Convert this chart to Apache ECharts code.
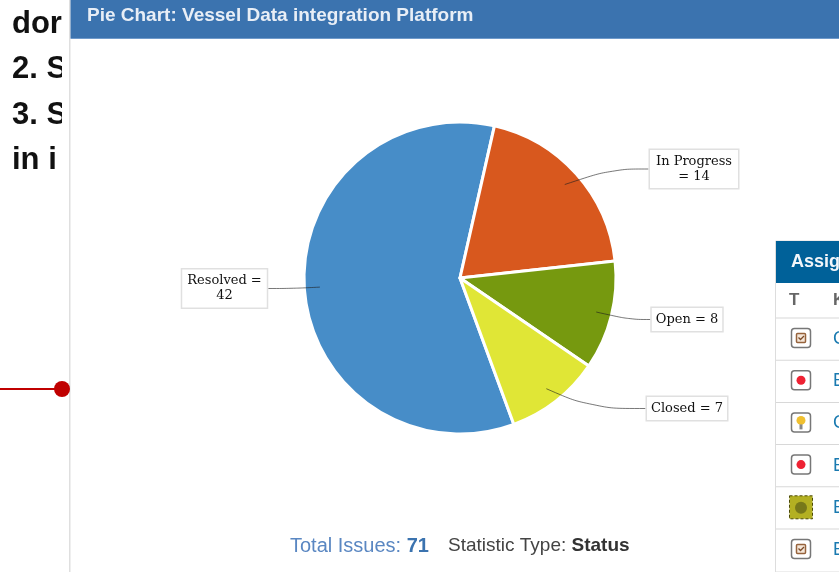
<!DOCTYPE html>
<html>
<head>
<meta charset="utf-8">
<title>Pie Chart: Vessel Data integration Platform</title>
<script src="https://cdn.jsdelivr.net/npm/echarts@6/dist/echarts.min.js"></script>
<style>
  html, body { margin: 0; padding: 0; background: #fff; }
  #chart { width: 839px; height: 572px; }
</style>
</head>
<body>
<div id="chart"></div>
<script>
const statuses = ['Resolved', 'In Progress', 'Open', 'Closed'];
const issueCounts = [42, 14, 8, 7];
const labelJoins = [' =\n', '\n= ', ' = ', ' = '];
const chartTitle = 'Pie Chart: Vessel Data integration Platform';
const totalIssues = 71;
const statisticType = 'Status';
const sideLines = ['dor', '2. S', '3. S', 'in i'];
const tableKeys = ['C', 'B', 'C', 'B', 'B', 'B'];
const tableIcons = ['task', 'bug', 'idea', 'bug', 'thumb', 'task'];

const colors = ['#478dc8', '#d8581e', '#76990f', '#e0e636'];
const sans = '"Liberation Sans", Arial, sans-serif';
const cx = 460, cy = 278, radius = 156;

// label centres, the bend of each leader line and side padding of the box
const labelSpots = [
  { x: 224.5, y: 288.5, bendX: 292, side: 1, pad: 5 },
  { x: 694, y: 169, bendX: 612, side: -1, pad: 6 },
  { x: 687, y: 319.5, bendX: 630, side: -1, pad: 4 },
  { x: 687, y: 408.5, bendX: 592, side: -1, pad: 4 }
];

const chart = echarts.init(document.getElementById('chart'), null, { renderer: 'canvas' });

const rect = (x, y, width, height, fill, extra) =>
  Object.assign({ type: 'rect', silent: true, shape: { x, y, width, height }, style: { fill } }, extra);
const text = (x, y, str, fill, font, extra) =>
  Object.assign({ type: 'text', silent: true, x, y, style: { text: str, fill, font, textVerticalAlign: 'middle' } }, extra);

const chrome = [];

// text column cut off behind the dialog
sideLines.forEach((line, i) => {
  chrome.push(text(12, 24 + i * 45.5, line, '#111', 'bold 31px ' + sans));
});
chrome.push(rect(62, 0, 8, 200, '#fff'));
chrome.push(rect(69, 0, 1.5, 572, '#dfdfdf'));
chrome.push(rect(0, 388, 62, 2, '#c00000'));
chrome.push({ type: 'circle', silent: true, shape: { cx: 62, cy: 389, r: 8 }, style: { fill: '#c00000' } });

// dialog header
chrome.push(rect(70.5, 0, 769, 38, '#3b73af'));
chrome.push(rect(70.5, 38, 769, 1, '#6f9acb'));
chrome.push(text(87, 16, chartTitle, '#e8eef6', 'bold 19px ' + sans));

// footer
chrome.push({
  type: 'text', silent: true, x: 290, y: 546,
  style: {
    text: '{a|Total Issues: }{b|' + totalIssues + '}',
    textVerticalAlign: 'middle',
    rich: {
      a: { fill: '#5a87c2', font: '20px ' + sans },
      b: { fill: '#3b73af', font: 'bold 20px ' + sans }
    }
  }
});
chrome.push({
  type: 'text', silent: true, x: 448, y: 546,
  style: {
    text: '{c|Statistic Type: }{d|' + statisticType + '}',
    textVerticalAlign: 'middle',
    rich: {
      c: { fill: '#444', font: '19px ' + sans },
      d: { fill: '#333', font: 'bold 19px ' + sans }
    }
  }
});

// assignee table, cut by the window edge
chrome.push(rect(775.5, 241, 64, 331, '#fff', { style: { fill: '#fff', stroke: '#ddd', lineWidth: 1 } }));
chrome.push(rect(776, 241, 63, 42, '#006199'));
chrome.push(text(791, 262, 'Assignee', '#f2f6fa', 'bold 18px ' + sans));
chrome.push(text(789, 300, 'T', '#666', 'bold 17px ' + sans));
chrome.push(text(833, 300, 'Key', '#666', 'bold 17px ' + sans));
tableKeys.forEach((key, i) => {
  const y = 339 + i * 42.2;
  chrome.push(rect(776, y - 21.5, 63, 1, '#d8d8d8'));
  chrome.push(text(833, y, key, '#1a7ab0', '18px ' + sans));
  const iy = y - 1;
  const icon = tableIcons[i];
  if (icon === 'thumb') {
    chrome.push({
      type: 'rect', silent: true,
      shape: { x: 789.5, y: iy - 11, width: 23, height: 23 },
      style: { fill: '#b3b022', stroke: '#4c4a08', lineWidth: 1, lineDash: [3, 2] }
    });
    chrome.push({ type: 'circle', silent: true, shape: { cx: 801, cy: iy + 1, r: 6 }, style: { fill: '#77781a' } });
    return;
  }
  chrome.push({
    type: 'rect', silent: true,
    shape: { x: 791.5, y: iy - 9.5, width: 19, height: 19, r: 3 },
    style: { fill: '#fff', stroke: '#777', lineWidth: 1.5 }
  });
  if (icon === 'bug') {
    chrome.push({ type: 'circle', silent: true, shape: { cx: 801, cy: iy, r: 4.5 }, style: { fill: '#ee2233' } });
  } else if (icon === 'idea') {
    chrome.push({ type: 'circle', silent: true, shape: { cx: 801, cy: iy - 2, r: 4.5 }, style: { fill: '#f0c030' } });
    chrome.push(rect(799.5, iy + 2, 3, 5, '#888'));
  } else {
    chrome.push({
      type: 'rect', silent: true,
      shape: { x: 796.5, y: iy - 4.5, width: 9, height: 9, r: 1 },
      style: { fill: '#f4e6d8', stroke: '#96633c', lineWidth: 1.5 }
    });
    chrome.push({
      type: 'polyline', silent: true,
      shape: { points: [[798.5, iy - 0.5], [800.5, iy + 1.5], [804, iy - 2]] },
      style: { fill: null, stroke: '#7a4a28', lineWidth: 1.3 }
    });
  }
});

const pieBase = {
  type: 'pie',
  silent: true,
  center: [cx, cy],
  radius: radius,
  startAngle: -69.8,
  clockwise: true
};

const option = {
  animation: false,
  backgroundColor: '#fff',
  graphic: { elements: chrome },
  series: [
    // the slices
    Object.assign({}, pieBase, {
      z: 5,
      data: statuses.map((name, i) => ({
        name,
        value: issueCounts[i],
        itemStyle: { color: colors[i] }
      })),
      itemStyle: { borderColor: '#fff', borderWidth: 3 },
      label: { show: false },
      labelLine: { show: false }
    }),
    // same pie with clear slices, so the leader lines sit on top of the colours
    Object.assign({}, pieBase, {
      z: 6,
      data: statuses.map((name, i) => ({
        name,
        value: issueCounts[i],
        itemStyle: { color: 'transparent' },
        label: { padding: [4, labelSpots[i].pad, 4, labelSpots[i].pad] }
      })),
      label: {
        show: true,
        position: 'outside',
        formatter: (p) => p.name + labelJoins[p.dataIndex] + p.value,
        fontFamily: '"DejaVu Serif", serif',
        fontSize: 13,
        lineHeight: 15,
        align: 'center',
        color: '#111',
        backgroundColor: '#fff',
        borderColor: '#e0e0e0',
        borderWidth: 1.5
      },
      labelLine: {
        show: true,
        smooth: 0.4,
        lineStyle: { color: 'rgba(30,30,30,0.6)', width: 1 }
      },
      labelLayout: (params) => {
        const spot = labelSpots[params.dataIndex];
        const edge = params.labelLinePoints[0];
        return {
          x: spot.x,
          y: spot.y,
          align: 'center',
          verticalAlign: 'middle',
          labelLinePoints: [
            [cx + (edge[0] - cx) * 0.9, cy + (edge[1] - cy) * 0.9],
            [spot.bendX, spot.y],
            [spot.x + spot.side * params.labelRect.width / 2, spot.y]
          ]
        };
      }
    })
  ]
};

chart.setOption(option);
</script>
</body>
</html>
